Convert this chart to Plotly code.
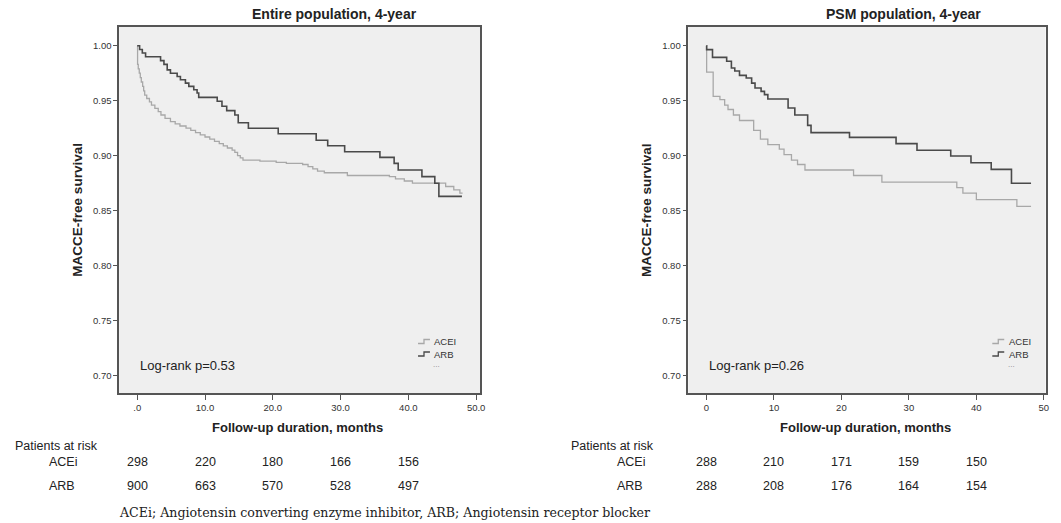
import plotly.graph_objects as go

W, H = 1061, 523

# ---------------- data ----------------
entire_acei_t = [0.0, 0.05, 0.15, 0.3, 0.45, 0.6, 0.8, 0.95, 1.1, 1.4, 1.8, 2.1, 2.6, 3.1, 3.5, 4.1,
                 4.9, 5.6, 6.3, 7.2, 7.9, 8.6, 9.3, 10.0, 10.7, 11.4, 12.1, 12.7, 13.3, 14.0, 14.4,
                 14.8, 15.2, 15.6, 18.1, 20.5, 22.0, 24.4, 25.2, 25.9, 26.6, 27.6, 31.0, 37.2, 38.1,
                 39.4, 40.6, 45.5, 46.7, 47.6, 48.0]
entire_acei_s = [1.000, 0.983, 0.979, 0.975, 0.971, 0.967, 0.963, 0.959, 0.955, 0.952, 0.949, 0.946,
                 0.943, 0.940, 0.937, 0.934, 0.931, 0.929, 0.927, 0.925, 0.923, 0.921, 0.919, 0.917,
                 0.915, 0.913, 0.911, 0.909, 0.907, 0.905, 0.903, 0.900, 0.898, 0.896, 0.895, 0.894,
                 0.893, 0.892, 0.890, 0.888, 0.886, 0.8845, 0.882, 0.881, 0.879, 0.877, 0.875, 0.872,
                 0.869, 0.866, 0.866]

entire_arb_t = [0.0, 0.35, 0.75, 1.23, 3.44, 3.94, 4.42, 4.9, 5.89, 6.37, 7.11, 7.61, 8.34, 8.83,
                9.07, 11.8, 12.5, 13.2, 14.4, 14.9, 16.4, 20.8, 26.4, 28.1, 30.6, 35.8, 37.9, 38.5,
                42.0, 43.9, 44.5, 47.9]
entire_arb_s = [1.000, 0.9965, 0.9934, 0.990, 0.9864, 0.983, 0.978, 0.975, 0.972, 0.969, 0.966,
                0.963, 0.960, 0.957, 0.953, 0.9495, 0.945, 0.941, 0.937, 0.930, 0.925, 0.920, 0.914,
                0.909, 0.9036, 0.8985, 0.893, 0.887, 0.881, 0.875, 0.863, 0.863]

psm_acei_t = [0.0, 0.03, 1.0, 2.0, 2.7, 3.2, 4.0, 4.9, 7.0, 8.0, 9.1, 10.8, 11.5, 12.6, 13.5, 14.6,
              21.8, 26.0, 37.1, 38.0, 40.0, 46.0, 48.1]
psm_acei_s = [1.000, 0.976, 0.954, 0.951, 0.946, 0.942, 0.937, 0.932, 0.923, 0.915, 0.910, 0.906,
              0.901, 0.896, 0.892, 0.887, 0.882, 0.876, 0.871, 0.866, 0.860, 0.854, 0.854]

psm_arb_t = [0.0, 0.03, 0.9, 3.0, 3.7, 4.2, 4.9, 5.9, 6.7, 7.2, 8.1, 8.6, 9.1, 12.1, 13.1, 15.0,
             15.5, 21.2, 28.1, 31.2, 36.2, 39.2, 42.2, 45.2, 48.1]
psm_arb_s = [1.000, 0.9964, 0.9894, 0.9858, 0.9797, 0.977, 0.973, 0.9706, 0.966, 0.9615, 0.9585,
             0.9555, 0.9515, 0.9434, 0.937, 0.9276, 0.921, 0.9167, 0.911, 0.905, 0.8997, 0.8936,
             0.8876, 0.875, 0.875]

risk_times = [0, 10, 20, 30, 40]
entire_risk_acei = [298, 220, 180, 166, 156]
entire_risk_arb = [900, 663, 570, 528, 497]
psm_risk_acei = [288, 210, 171, 159, 150]
psm_risk_arb = [288, 208, 176, 164, 154]

y_ticks = [0.70, 0.75, 0.80, 0.85, 0.90, 0.95, 1.00]
x_ticks = [0, 10, 20, 30, 40, 50]
entire_xtick_text = [".0", "10.0", "20.0", "30.0", "40.0", "50.0"]
psm_xtick_text = ["0", "10", "20", "30", "40", "50"]

titles = ["Entire population, 4-year", "PSM population, 4-year"]
pvalues = ["Log-rank p=0.53", "Log-rank p=0.26"]

# ---------------- style ----------------
C_ACEI = "#a8a8a8"
C_ARB = "#4a4a4a"
AX = "#555555"
TXT = "#222222"
SANS = "Liberation Sans, Arial, sans-serif"
SERIF = "DejaVu Serif, Liberation Serif, serif"


def px(x):
    return x / W


def py(y):
    return 1 - y / H


fig = go.Figure()

fig.add_trace(go.Scatter(x=entire_acei_t, y=entire_acei_s, mode="lines", line=dict(color=C_ACEI, width=1.3, shape="hv"),
                         xaxis="x", yaxis="y", showlegend=False))
fig.add_trace(go.Scatter(x=entire_arb_t, y=entire_arb_s, mode="lines", line=dict(color=C_ARB, width=1.6, shape="hv"),
                         xaxis="x", yaxis="y", showlegend=False))
fig.add_trace(go.Scatter(x=psm_acei_t, y=psm_acei_s, mode="lines", line=dict(color=C_ACEI, width=1.3, shape="hv"),
                         xaxis="x2", yaxis="y2", showlegend=False))
fig.add_trace(go.Scatter(x=psm_arb_t, y=psm_arb_s, mode="lines", line=dict(color=C_ARB, width=1.6, shape="hv"),
                         xaxis="x2", yaxis="y2", showlegend=False))

y_dom = [py(393), py(27)]
yr = [0.6843, 1.017]

common_ax = dict(showline=True, mirror=True, linecolor=AX, linewidth=1.5, ticks="outside",
                 tickcolor=AX, tickwidth=1.2, showgrid=False, zeroline=False,
                 tickfont=dict(family=SANS, size=9.5, color="#333"))

fig.update_layout(
    width=W, height=H, margin=dict(l=0, r=0, t=0, b=0),
    paper_bgcolor="white", plot_bgcolor="#efefef", showlegend=False,
    xaxis=dict(domain=[px(119.7), px(482.7)], range=[-2.67, 50.63], tickvals=x_ticks,
               ticktext=entire_xtick_text, ticklen=5, anchor="y", **common_ax),
    yaxis=dict(domain=y_dom, range=yr, tickvals=y_ticks, ticktext=[f"{v:.2f}" for v in y_ticks],
               ticklen=4, anchor="x", **common_ax),
    xaxis2=dict(domain=[px(691.6), px(1050.5)], range=[-2.68, 50.25], tickvals=x_ticks,
                ticktext=psm_xtick_text, ticklen=5, anchor="y2", **common_ax),
    yaxis2=dict(domain=y_dom, range=yr, tickvals=y_ticks, ticktext=[f"{v:.2f}" for v in y_ticks],
                ticklen=4, anchor="x2", **common_ax),
)

ann = []
shapes = []

panels = [
    dict(xa="x", title_x=336, xt_x=299, yt_x=77, p_x=139, leg_sw=420, leg_tx=434.5, dots=439,
         pr_x=13, grp_x=47.5, racei=entire_risk_acei, rarb=entire_risk_arb),
    dict(xa="x2", title_x=908, xt_x=870, yt_x=649, p_x=710, leg_sw=997, leg_tx=1011.5, dots=1016,
         pr_x=572, grp_x=618, racei=psm_risk_acei, rarb=psm_risk_arb),
]

for i, p in enumerate(panels):
    # title
    ann.append(dict(text=f"<b>{titles[i]}</b>", x=px(p["title_x"]), y=py(14.5), xref="paper", yref="paper",
                    showarrow=False, xanchor="center", yanchor="middle",
                    font=dict(family=SANS, size=14, color=TXT)))
    # x axis title
    ann.append(dict(text="<b>Follow-up duration, months</b>", x=px(p["xt_x"]), y=py(427), xref="paper",
                    yref="paper", showarrow=False, xanchor="center", yanchor="middle",
                    font=dict(family=SANS, size=13, color=TXT)))
    # y axis title
    ann.append(dict(text="<b>MACCE-free survival</b>", x=px(p["yt_x"]), y=py(210), xref="paper", yref="paper",
                    showarrow=False, xanchor="center", yanchor="middle", textangle=-90,
                    font=dict(family=SANS, size=13.5, color=TXT)))
    # log-rank
    ann.append(dict(text=pvalues[i], x=px(p["p_x"]), y=py(365), xref="paper", yref="paper",
                    showarrow=False, xanchor="left", yanchor="middle",
                    font=dict(family=SANS, size=13, color=TXT)))
    # legend
    for lab, col, yy in [("ACEI", C_ACEI, 341.5), ("ARB", C_ARB, 354)]:
        ann.append(dict(text=lab, x=px(p["leg_tx"]), y=py(yy), xref="paper", yref="paper", showarrow=False,
                        xanchor="left", yanchor="middle", font=dict(family=SANS, size=9.5, color="#333")))
        x0 = p["leg_sw"]
        path = (f"M {px(x0)} {py(yy + 2)} L {px(x0 + 6)} {py(yy + 2)} L {px(x0 + 6)} {py(yy - 2)} "
                f"L {px(x0 + 12)} {py(yy - 2)}")
        shapes.append(dict(type="path", path=path, xref="paper", yref="paper",
                           line=dict(color=col, width=1.3)))
    ann.append(dict(text="...", x=px(p["dots"]), y=py(364), xref="paper", yref="paper", showarrow=False,
                    xanchor="center", yanchor="middle", font=dict(family=SANS, size=8, color="#888")))
    # patients at risk
    ann.append(dict(text="Patients at risk", x=px(p["pr_x"]), y=py(446), xref="paper", yref="paper",
                    showarrow=False, xanchor="left", yanchor="middle",
                    font=dict(family=SANS, size=12.5, color=TXT)))
    for lab, vals, yy in [("ACEi", p["racei"], 462), ("ARB", p["rarb"], 486)]:
        ann.append(dict(text=lab, x=px(p["grp_x"]), y=py(yy), xref="paper", yref="paper", showarrow=False,
                        xanchor="left", yanchor="middle", font=dict(family=SANS, size=12.5, color=TXT)))
        for t, v in zip(risk_times, vals):
            ann.append(dict(text=str(v), x=t, y=py(yy), xref=p["xa"], yref="paper", showarrow=False,
                            xanchor="center", yanchor="middle", font=dict(family=SANS, size=12.5, color=TXT)))

ann.append(dict(text="ACEi; Angiotensin converting enzyme inhibitor, ARB; Angiotensin receptor blocker",
                x=px(118), y=py(512), xref="paper", yref="paper", showarrow=False, xanchor="left",
                yanchor="middle", font=dict(family=SERIF, size=12.6, color=TXT)))

fig.update_layout(annotations=ann, shapes=shapes)
fig.write_html("out.html", config={"displayModeBar": False},
               post_script="document.body.style.margin='0';document.body.style.overflow='hidden';")
